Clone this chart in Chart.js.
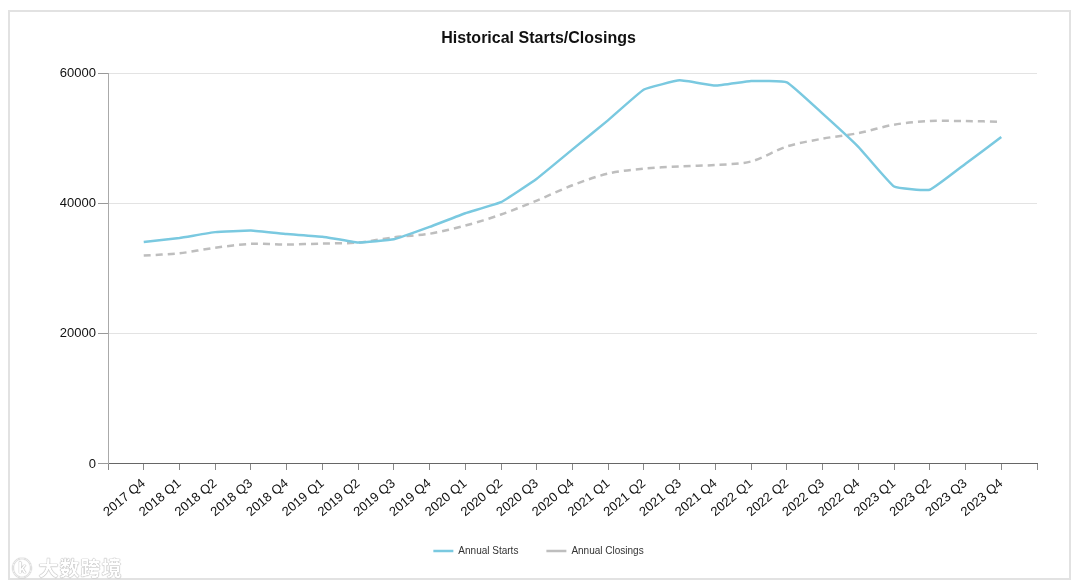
<!DOCTYPE html>
<html>
<head>
<meta charset="utf-8">
<script src="https://cdn.jsdelivr.net/npm/chart.js@4.4.1/dist/chart.umd.min.js"></script>
<style>
  body { margin: 0; background: #fff; font-family: "Liberation Sans", Arial, sans-serif; }
  #frame { position: absolute; left: 8px; top: 10px; width: 1059px; height: 566px; border: 2px solid #e2e2e2; }
  #wrap { position: absolute; left: 0; top: 0; width: 1059px; height: 566px; }
  #mark { position: absolute; left: 12px; top: 553px; font: bold 20px "Noto Sans CJK SC", sans-serif; color: #fff;
          text-shadow: 0 0 1px #999, 0 0 1px #999; letter-spacing: 1px; }
</style>
</head>
<body>
<div id="frame"><div id="wrap"><canvas id="chart"></canvas></div></div>
<div id="mark">ⓚ 大数跨境</div>
<script>
// quarters shown on the x axis
const quarters = [
  '2017 Q4', '2018 Q1', '2018 Q2', '2018 Q3', '2018 Q4',
  '2019 Q1', '2019 Q2', '2019 Q3', '2019 Q4',
  '2020 Q1', '2020 Q2', '2020 Q3', '2020 Q4',
  '2021 Q1', '2021 Q2', '2021 Q3', '2021 Q4',
  '2022 Q1', '2022 Q2', '2022 Q3', '2022 Q4',
  '2023 Q1', '2023 Q2', '2023 Q3', '2023 Q4'
];

const annualStarts = [
  34100, 34700, 35600, 35850, 35300, 34900, 34000, 34500, 36400,
  38500, 40200, 43800, 48300, 52800, 57500, 58900, 58100, 58800,
  58600, 53800, 48700, 42600, 42100, 46100, 50200
];

const annualClosings = [
  32000, 32350, 33200, 33800, 33700, 33850, 34000, 34800, 35350,
  36600, 38300, 40450, 42800, 44600, 45350, 45700, 45900, 46450,
  48750, 49950, 50800, 52100, 52650, 52650, 52550
];

const yTicks = [0, 20000, 40000, 60000];

// empty slot on each side so the first/last points sit one step inside the axis
const labels = [''].concat(quarters, ['']);
const pad = arr => [null].concat(arr, [null]);

const ctx = document.getElementById('chart').getContext('2d');
new Chart(ctx, {
  type: 'line',
  data: {
    labels: labels,
    datasets: [
      {
        label: 'Annual Starts',
        data: pad(annualStarts),
        borderColor: 'rgb(122, 201, 224)',
        backgroundColor: 'rgb(122, 201, 224)',
        borderWidth: 2.5,
        pointRadius: 0,
        tension: 0.1
      },
      {
        label: 'Annual Closings',
        data: pad(annualClosings),
        borderColor: 'rgb(190, 190, 190)',
        backgroundColor: 'rgb(190, 190, 190)',
        borderWidth: 2.5,
        borderDash: [7, 5],
        pointRadius: 0,
        tension: 0.3
      }
    ]
  },
  options: {
    responsive: true,
    maintainAspectRatio: false,
    animation: false,
    layout: { padding: { left: 30, right: 32, top: 14, bottom: 12 } },
    plugins: {
      title: {
        display: true,
        text: 'Historical Starts/Closings',
        color: '#111',
        font: { family: '"Liberation Sans", Arial, sans-serif', size: 16, weight: 'bold' },
        padding: { top: 3, bottom: 25 }
      },
      legend: {
        position: 'bottom',
        labels: {
          color: '#333',
          font: { family: '"Liberation Sans", Arial, sans-serif', size: 10 },
          usePointStyle: true,
          pointStyle: 'line',
          pointStyleWidth: 20,
          boxWidth: 20,
          boxHeight: 8,
          padding: 28
        }
      },
      tooltip: { enabled: false }
    },
    scales: {
      x: {
        afterFit: scale => { scale.height -= 8; },
        grid: { drawOnChartArea: false, drawTicks: true, tickLength: 6, color: '#888', tickColor: '#888' },
        border: { color: '#666', width: 1 },
        ticks: {
          color: '#111',
          autoSkip: false,
          minRotation: 40,
          maxRotation: 40,
          font: { family: '"Liberation Sans", Arial, sans-serif', size: 13 },
          padding: 6
        }
      },
      y: {
        min: 0,
        max: 60000,
        afterBuildTicks: scale => { scale.ticks = yTicks.map(v => ({ value: v })); },
        afterFit: scale => { scale.width = 68; },
        grid: { color: '#e3e3e3', tickColor: '#999', tickLength: 10, lineWidth: 1 },
        border: { color: '#aaa', width: 1 },
        ticks: {
          color: '#111',
          font: { family: '"Liberation Sans", Arial, sans-serif', size: 13 },
          padding: 2,
          callback: v => String(v)
        }
      }
    }
  }
});
</script>
</body>
</html>
